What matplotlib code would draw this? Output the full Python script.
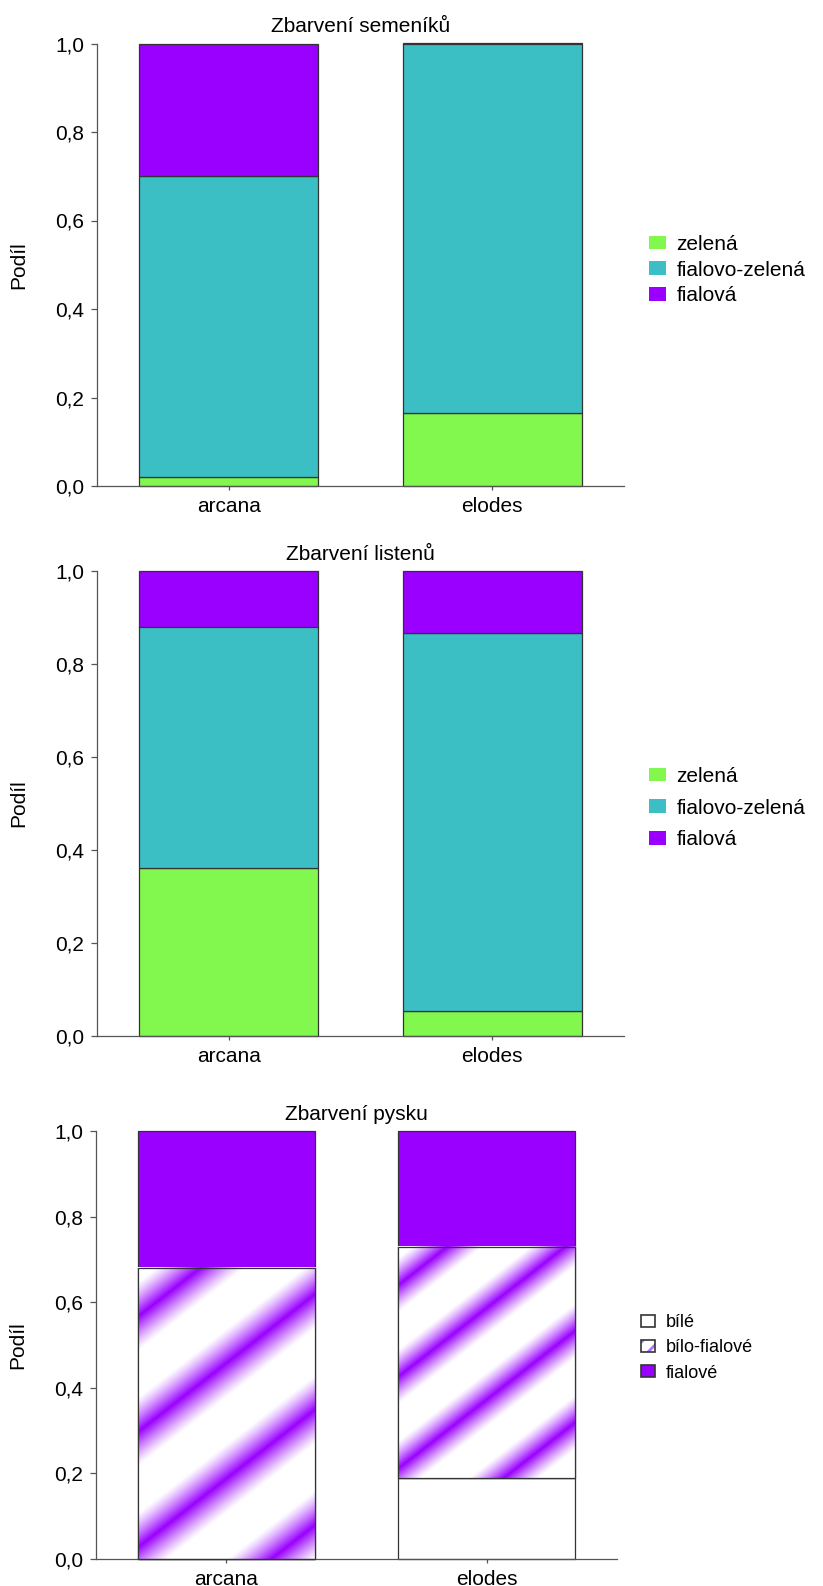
import numpy as np
import matplotlib
matplotlib.use("Agg")
import matplotlib.pyplot as plt
from matplotlib.patches import Patch
from matplotlib.legend_handler import HandlerTuple

# data
species = ["arcana", "elodes"]

ovary_title = "Zbarvení semeníků"
bract_title = "Zbarvení listenů"
lip_title = "Zbarvení pysku"

green_labels = ["zelená", "fialovo-zelená", "fialová"]
ovary_green = [0.02, 0.165]
ovary_violet_green = [0.68, 0.835]
ovary_violet = [0.30, 0.0]

bract_green = [0.36, 0.054]
bract_violet_green = [0.52, 0.811]
bract_violet = [0.12, 0.135]

lip_labels = ["bílé", "bílo-fialové", "fialové"]
lip_white = [0.0, 0.19]
lip_white_violet = [0.68, 0.54]
lip_violet = [0.32, 0.27]

ytick_vals = [0.0, 0.2, 0.4, 0.6, 0.8, 1.0]
ytick_labels = ["0,0", "0,2", "0,4", "0,6", "0,8", "1,0"]

GREEN = "#82F84E"
TEAL = "#3BBFC5"
VIOLET = "#9900FF"
EDGE = "#333333"
SPINE = "#555555"

W, H = 823, 1586
plt.rcParams["font.family"] = ["Liberation Sans", "DejaVu Sans"]
plt.rcParams["hatch.linewidth"] = 2.0

fig = plt.figure(figsize=(W / 100, H / 100), dpi=100)


def make_ax(left, right, top, bottom):
    return fig.add_axes([left / W, 1 - bottom / H, (right - left) / W, (bottom - top) / H])


def style_axes(ax, title, width_px):
    ax.set_xlim(-0.5, 1.5)
    ax.set_ylim(0, 1)
    for s in ("top", "right"):
        ax.spines[s].set_visible(False)
    for s in ("left", "bottom"):
        ax.spines[s].set_color(SPINE)
        ax.spines[s].set_linewidth(0.9)
    ax.set_xticks(range(len(species)))
    ax.set_xticklabels(species)
    ax.set_yticks(ytick_vals)
    ax.set_yticklabels(ytick_labels)
    ax.tick_params(axis="y", length=4.3, width=0.9, color=SPINE, pad=5.0, labelsize=15)
    ax.tick_params(axis="x", length=3, width=0.9, color=SPINE, pad=5, labelsize=15)
    ax.set_title(title, fontsize=15, pad=8)
    ax.set_ylabel("Podíl", fontsize=15)
    ax.yaxis.set_label_coords((28 - 97) / width_px, 0.5)


def stacked(ax, layers, colors):
    bottom = np.zeros(len(species))
    for vals, c in zip(layers, colors):
        ax.bar(range(len(species)), vals, width=0.68, bottom=bottom, color=c,
               edgecolor=EDGE, linewidth=0.9, zorder=2, clip_on=False)
        bottom = bottom + np.array(vals)


def stripe_fill(ax, xs, bottoms, heights, width=0.68):
    # soft diagonal stripes, like the gradient hatch of the original
    purple = np.array(matplotlib.colors.to_rgb(VIOLET))
    for x, b, h in zip(xs, bottoms, heights):
        if h <= 0:
            continue
        x0, x1 = x - width / 2, x + width / 2
        p0, p1 = ax.transData.transform([[x0, b], [x1, b + h]])
        wpx = int(round(p1[0] - p0[0]))
        hpx = int(round(p1[1] - p0[1]))
        yy, xx = np.mgrid[0:hpx, 0:wpx]
        period = hpx / 2.53
        v = yy - 0.78 * xx
        d = (v - (hpx - 0.43 * period) + period / 2) % period - period / 2
        a = np.clip(1 - np.abs(d) / (0.3 * period), 0, 1) ** 1.2
        img = 1 - a[..., None] * (1 - purple)
        ax.imshow(img, extent=(x0, x1, b, b + h), origin="lower", aspect="auto",
                  interpolation="bilinear", zorder=2.1)
        ax.bar([x], [h], width=width, bottom=[b], fill=False, edgecolor=EDGE,
               linewidth=0.9, zorder=3, clip_on=False)
    ax.set_xlim(-0.5, 1.5)
    ax.set_ylim(0, 1)


# panel 1
ax1 = make_ax(97, 624, 43.5, 486)
style_axes(ax1, ovary_title, 624 - 97)
stacked(ax1, [ovary_green, ovary_violet_green, ovary_violet], [GREEN, TEAL, VIOLET])
h1 = [Patch(facecolor=c, edgecolor="none") for c in (GREEN, TEAL, VIOLET)]
fig.legend(h1, green_labels, loc="center left", bbox_to_anchor=(649 / W, 1 - 270 / H),
           frameon=False, fontsize=15, borderpad=0, borderaxespad=0,
           handlelength=0.82, handleheight=0.62, handletextpad=0.5, labelspacing=0.33)

# panel 2
ax2 = make_ax(97, 624, 570.7, 1035.7)
style_axes(ax2, bract_title, 624 - 97)
stacked(ax2, [bract_green, bract_violet_green, bract_violet], [GREEN, TEAL, VIOLET])
h2 = [Patch(facecolor=c, edgecolor="none") for c in (GREEN, TEAL, VIOLET)]
fig.legend(h2, green_labels, loc="center left", bbox_to_anchor=(649 / W, 1 - 808 / H),
           frameon=False, fontsize=15, borderpad=0, borderaxespad=0,
           handlelength=0.82, handleheight=0.62, handletextpad=0.5, labelspacing=0.62)

# panel 3
ax3 = make_ax(96, 617, 1131, 1559)
style_axes(ax3, lip_title, 617 - 96)
stacked(ax3, [lip_white, lip_white_violet, lip_violet], ["white", "white", VIOLET])
stripe_fill(ax3, range(len(species)), lip_white, lip_white_violet)
h3 = [
    Patch(facecolor="white", edgecolor=EDGE, linewidth=1.2),
    (Patch(facecolor="white", edgecolor="#B070FF", hatch="//", linewidth=0),
     Patch(fill=False, edgecolor=EDGE, linewidth=1.2)),
    Patch(facecolor=VIOLET, edgecolor=EDGE, linewidth=1.2),
]
fig.legend(h3, lip_labels, loc="center left", bbox_to_anchor=(641 / W, 1 - 1348 / H),
           frameon=False, fontsize=13, borderpad=0, borderaxespad=0,
           handlelength=0.78, handleheight=0.67, handletextpad=0.6, labelspacing=0.45,
           handler_map={tuple: HandlerTuple(ndivide=1, pad=0)})

fig.savefig("out.png", dpi=100)
plt.close(fig)
